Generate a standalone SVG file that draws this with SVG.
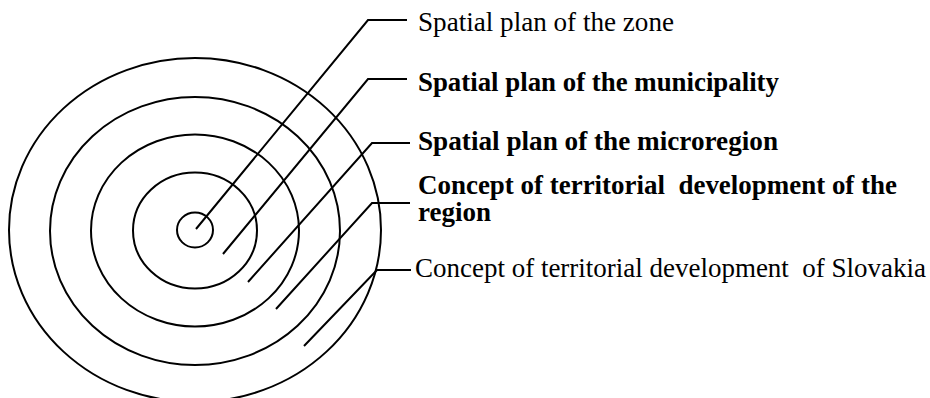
<svg xmlns="http://www.w3.org/2000/svg" width="930" height="398" viewBox="0 0 930 398">
<style>
.ring{fill:none;stroke:#000;stroke-width:2}
.lead{fill:none;stroke:#000;stroke-width:2}
.lbl{font-family:"Liberation Serif","Times New Roman",serif;font-size:27px;fill:#000;white-space:pre}
.b{font-weight:bold}
</style>
<rect width="930" height="398" fill="#fff"/>
<g id="rings">
<g id="ring-slovakia"><ellipse class="ring" cx="195" cy="230" rx="186" ry="172"/></g>
<g id="ring-region"><ellipse class="ring" cx="195" cy="231" rx="145" ry="134"/></g>
<g id="ring-microregion"><ellipse class="ring" cx="195" cy="230.5" rx="104" ry="96"/></g>
<g id="ring-municipality"><ellipse class="ring" cx="195" cy="230.5" rx="62" ry="58"/></g>
<g id="ring-zone"><ellipse class="ring" cx="195" cy="230" rx="18" ry="17.5"/></g>
</g>
<g id="connectors">
<polyline class="lead" points="196,229 368,20 407,20"/>
<polyline class="lead" points="223,254 368,79 407,79"/>
<polyline class="lead" points="248,282 372,143 410,143"/>
<polyline class="lead" points="276,309 372,203 410,203"/>
<polyline class="lead" points="304,346 377,270 411,270"/>
</g>
<g id="label-zone"><text class="lbl" x="418" y="30.5" textLength="256" lengthAdjust="spacingAndGlyphs">Spatial plan of the zone</text></g>
<g id="label-municipality"><text class="lbl b" x="418" y="90.5" textLength="361" lengthAdjust="spacingAndGlyphs">Spatial plan of the municipality</text></g>
<g id="label-microregion"><text class="lbl b" x="418" y="150" textLength="360" lengthAdjust="spacingAndGlyphs">Spatial plan of the microregion</text></g>
<g id="label-region"><text class="lbl b" x="418" y="193.5" textLength="479" lengthAdjust="spacingAndGlyphs">Concept of territorial  development of the</text><text class="lbl b" x="418" y="221">region</text></g>
<g id="label-slovakia"><text class="lbl" x="415" y="276.5" textLength="511" lengthAdjust="spacingAndGlyphs">Concept of territorial development  of Slovakia</text></g>
</svg>
